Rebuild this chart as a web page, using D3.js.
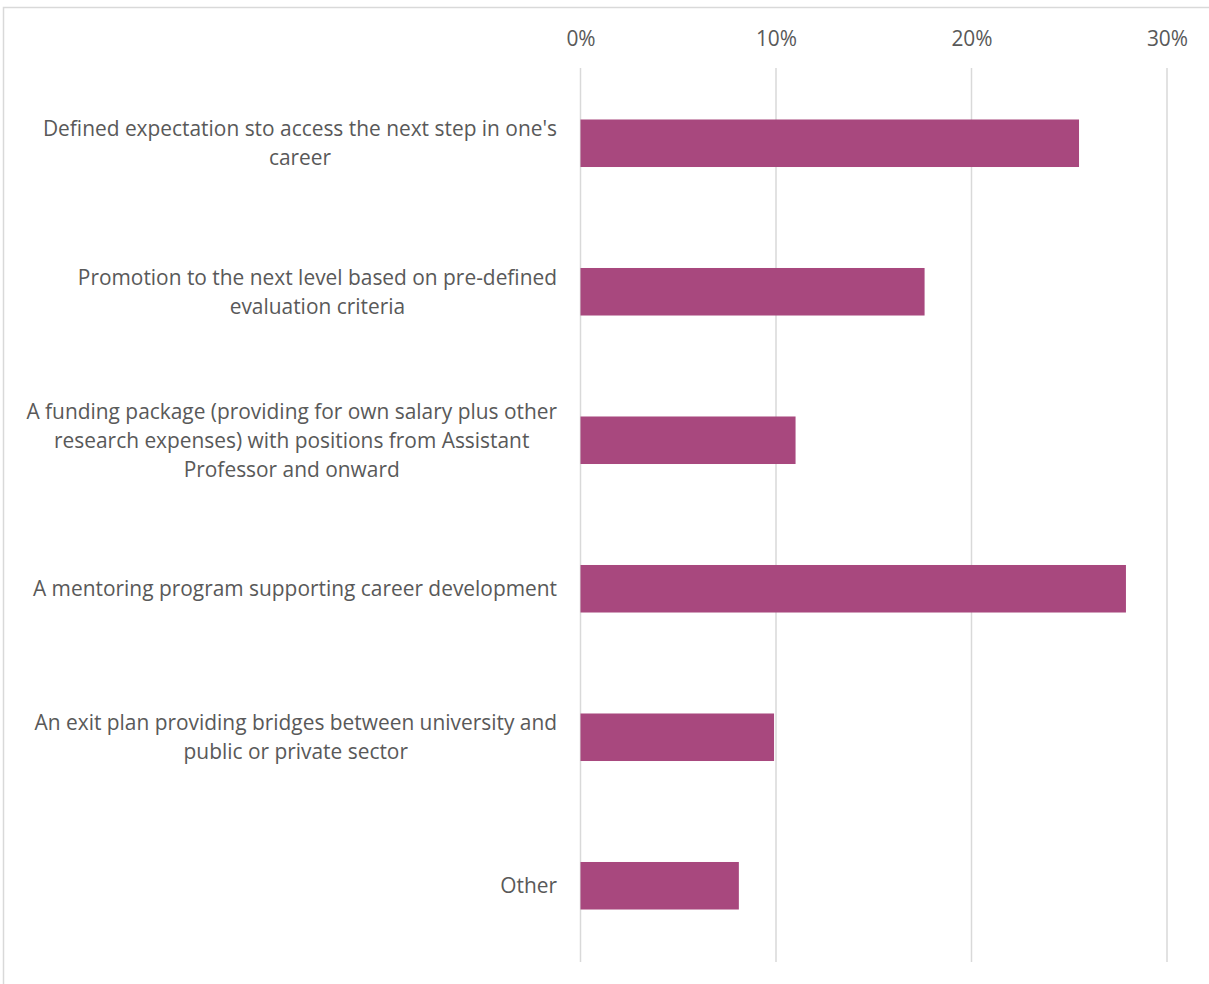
<!DOCTYPE html>
<html>
<head>
<meta charset="utf-8">
<script src="https://cdn.jsdelivr.net/npm/d3@7"></script>
<style>
  html, body { margin: 0; padding: 0; background: #fff; }
  svg { display: block; }
</style>
</head>
<body>
<svg id="chart" width="1209" height="984"></svg>
<script>
// Survey answers (category labels, each split into the lines shown)
const categories = [
  ["Defined expectation sto access the next step in one's", "career"],
  ["Promotion to the next level based on pre-defined", "evaluation criteria"],
  ["A funding package (providing for own salary plus other", "research expenses) with positions from Assistant", "Professor and onward"],
  ["A mentoring program supporting career development"],
  ["An exit plan providing bridges between university and", "public or private sector"],
  ["Other"]
];
// Share of respondents, percent
const values = [25.5, 17.6, 11.0, 27.9, 9.9, 8.1];
const tickValues = [0, 10, 20, 30];

const svg = d3.select("#chart");
const fontFamily = "'Open Sans', 'DejaVu Sans', sans-serif";
const fontSize = 20.9;
const textColor = "#595959";

// Chart frame
svg.append("rect")
  .attr("x", 3.5).attr("y", 7.5)
  .attr("width", 1220).attr("height", 1000)
  .attr("fill", "none").attr("stroke", "#d9d9d9").attr("stroke-width", 1.5);

const x = d3.scaleLinear().domain([0, 30]).range([580.5, 1167]);
const y = d3.scaleBand().domain(d3.range(categories.length)).range([69, 960]).paddingInner(0.68).paddingOuter(0.34);

// Gridlines
svg.append("g").selectAll("line").data(tickValues).join("line")
  .attr("x1", d => x(d)).attr("x2", d => x(d))
  .attr("y1", 68).attr("y2", 962)
  .attr("stroke", "#d9d9d9").attr("stroke-width", 1.5);

// Top axis labels
const axis = d3.axisTop(x).tickValues(tickValues).tickFormat(d => d + "%").tickSize(0).tickPadding(0);
const axisG = svg.append("g").attr("transform", "translate(0,46)").call(axis);
axisG.select(".domain").remove();
axisG.selectAll("text")
  .attr("font-family", fontFamily).attr("font-size", fontSize).attr("fill", textColor);

// Bars
svg.append("g").selectAll("rect").data(values).join("rect")
  .attr("x", x(0))
  .attr("y", (d, i) => y(i))
  .attr("width", d => x(d) - x(0))
  .attr("height", y.bandwidth())
  .attr("fill", "#a8487e");

// Category labels: lines centred within a block right-aligned at the axis
const lineH = 29;
const labelRight = 557;
const labels = svg.append("g");
categories.forEach((lines, i) => {
  const cy = y(i) + y.bandwidth() / 2;
  const t = labels.append("text")
    .attr("font-family", fontFamily).attr("font-size", fontSize).attr("fill", textColor)
    .attr("text-anchor", "middle");
  const spans = lines.map((ln, j) => t.append("tspan")
    .attr("y", cy + (j - (lines.length - 1) / 2) * lineH)
    .attr("dy", "0.35em")
    .text(ln));
  const w = d3.max(spans, s => s.node().getComputedTextLength());
  spans.forEach(s => s.attr("x", labelRight - w / 2));
});
</script>
</body>
</html>
